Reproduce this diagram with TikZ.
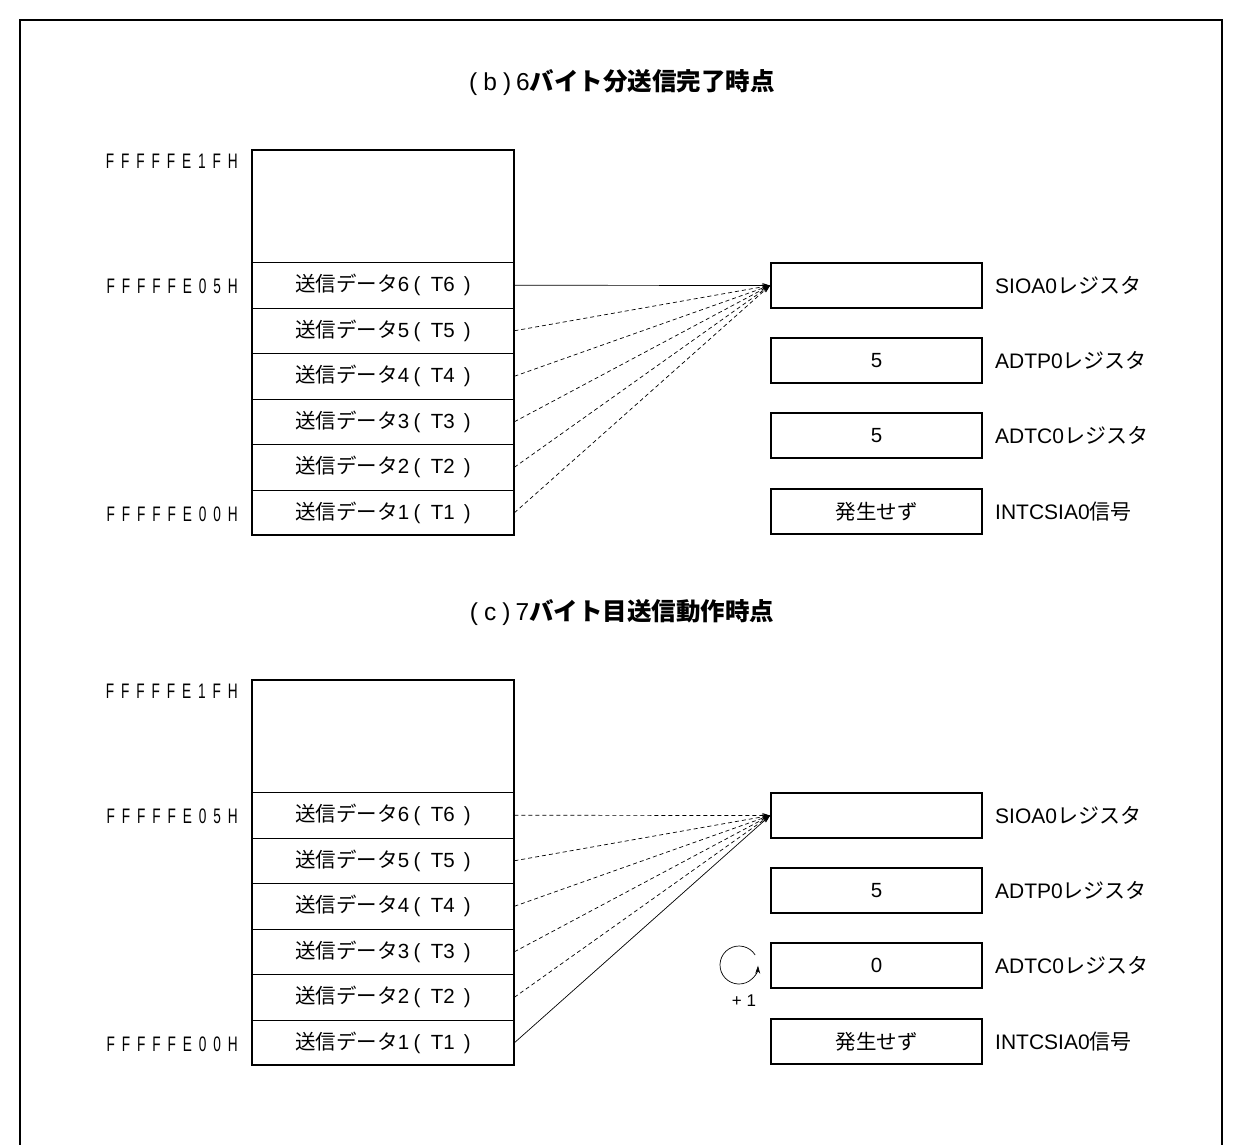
\documentclass[tikz,border=0pt]{standalone}
\usepackage{fontspec}
\setmainfont{Liberation Sans}
\newfontfamily\jp{Noto Sans CJK JP}
\newfontfamily\addrfont[FakeStretch=0.65,LetterSpace=33]{Liberation Sans}
\usetikzlibrary{arrows.meta}
\tikzset{
  memrow/.style={draw, line width=0.8pt, minimum width=262pt, minimum height=45.5pt, inner sep=0pt, font=\fontsize{20.5}{23}\selectfont},
  memouter/.style={draw, line width=1.8pt, minimum width=262pt, minimum height=385pt, inner sep=0pt},
  regbox/.style={draw, line width=1.8pt, minimum width=211pt, minimum height=45pt, inner sep=0pt, font=\fontsize{20.5}{23}\selectfont},
  reglabel/.style={anchor=west, inner sep=0pt, font=\fontsize{21}{24}\selectfont},
  addr/.style={anchor=east, inner sep=0pt, font=\addrfont\fontsize{21}{24}\selectfont},
  ttl/.style={inner sep=0pt, font=\fontsize{24.5}{28}\selectfont},
  solidarr/.style={line width=0.7pt, -{Stealth[length=8pt,width=5pt]}},
  dasharr/.style={line width=0.7pt, dash pattern=on 4pt off 3pt, -{Stealth[length=8pt,width=5pt]}},
}
\newcommand\rowtxt[1]{{\jp 送信データ}#1\hspace{0.22em}(\hspace{0.5em}T#1\hspace{0.45em})}
\newcommand\panel[6]{%
  \begin{scope}[yshift=#4]
  \node[ttl] (#1title) at (622,83) {#2};
  \node[addr] (#1a1f) at (238,161) {FFFFFE1FH};
  \node[addr] (#1a05) at (238,286) {FFFFFE05H};
  \node[addr] (#1a00) at (238,514) {FFFFFE00H};
  \node[memrow] (#1r6) at (383,285.25) {\rowtxt{6}};
  \node[memrow] (#1r5) at (383,330.75) {\rowtxt{5}};
  \node[memrow] (#1r4) at (383,376.25) {\rowtxt{4}};
  \node[memrow] (#1r3) at (383,421.75) {\rowtxt{3}};
  \node[memrow] (#1r2) at (383,467.25) {\rowtxt{2}};
  \node[memrow] (#1r1) at (383,512.75) {\rowtxt{1}};
  \node[memouter] (#1mem) at (383,342.5) {};
  \node[regbox] (#1sio) at (876.5,285.5) {};
  \node[regbox] (#1adtp) at (876.5,360.5) {5};
  \node[regbox] (#1adtc) at (876.5,435.5) {#3};
  \node[regbox] (#1int) at (876.5,511.5) {{\jp 発生せず}};
  \node[reglabel] (#1lsio) at (995,285.5) {SIOA0{\jp レジスタ}};
  \node[reglabel] (#1ladtp) at (995,360.5) {ADTP0{\jp レジスタ}};
  \node[reglabel] (#1ladtc) at (995,435.5) {ADTC0{\jp レジスタ}};
  \node[reglabel] (#1lint) at (995,511.5) {INTCSIA0{\jp 信号}};
  \draw[#5] (#1r6.east) -- (#1sio.west);
  \draw[dasharr] (#1r5.east) -- (#1sio.west);
  \draw[dasharr] (#1r4.east) -- (#1sio.west);
  \draw[dasharr] (#1r3.east) -- (#1sio.west);
  \draw[dasharr] (#1r2.east) -- (#1sio.west);
  \draw[#6] (#1r1.east) -- (#1sio.west);
  \end{scope}}
\begin{document}
\begin{tikzpicture}[x=1pt,y=-1pt]
\useasboundingbox (0,0) rectangle (1241,1144);
\draw[line width=1.3pt] (20,1150) -- (20,20) -- (1222,20) -- (1222,1150);
\panel{b}{(\hspace{0.25em}b\hspace{0.25em})\hspace{0.2em}6{\jp\bfseries バイト分送信完了時点}}{5}{0pt}{solidarr}{dasharr}
\panel{c}{(\hspace{0.25em}c\hspace{0.25em})\hspace{0.2em}7{\jp\bfseries バイト目送信動作時点}}{0}{-530pt}{dasharr}{solidarr}
\coordinate (cc) at (739,965);
\draw[line width=0.7pt, -{Stealth[length=8pt,width=5pt]}] ([shift={(32:19pt)}]cc) arc[start angle=32, end angle=358, radius=19pt];
\node[inner sep=0pt, font=\fontsize{17}{20}\selectfont] (plus) at (744,1001) {+ 1};
\end{tikzpicture}
\end{document}
